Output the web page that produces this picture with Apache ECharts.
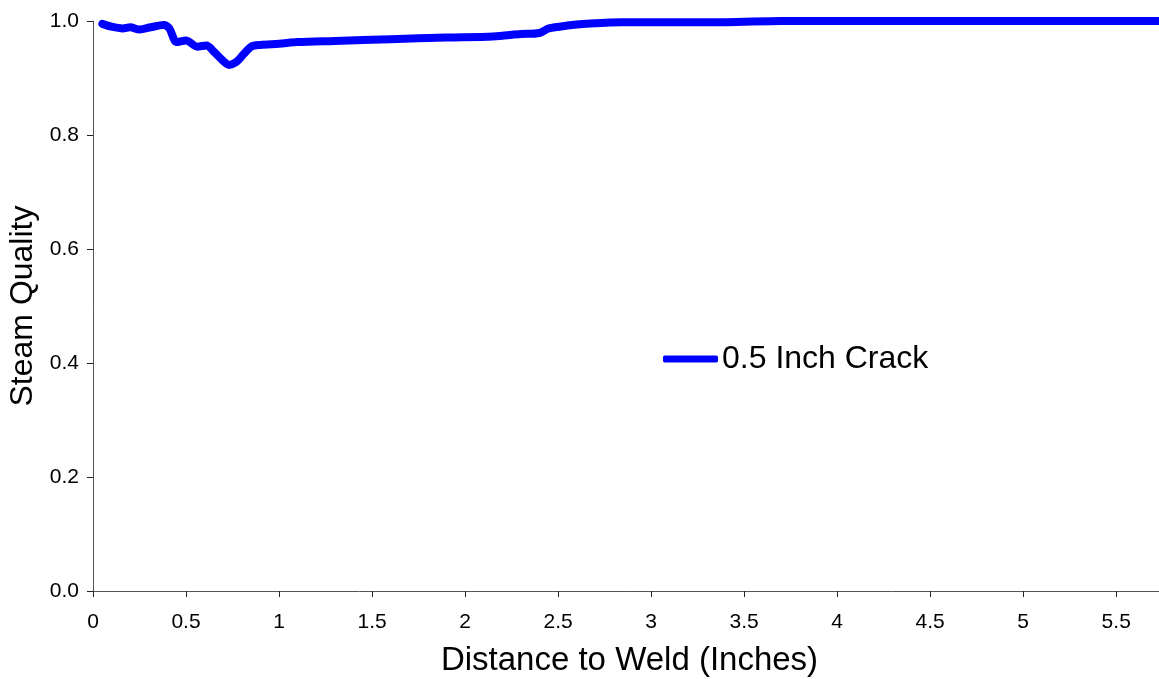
<!DOCTYPE html>
<html>
<head>
<meta charset="utf-8">
<title>Steam Quality vs Distance to Weld</title>
<script src="https://cdn.jsdelivr.net/npm/echarts@6/dist/echarts.min.js"></script>
<style>
  html, body { margin: 0; padding: 0; background: #ffffff; }
  #chart { width: 1159px; height: 679px; }
</style>
</head>
<body>
<div id="chart"></div>
<script>
// Distance from the weld (inches) and the matching steam quality
const distance = [0.05, 0.10, 0.16, 0.20, 0.25, 0.31, 0.38, 0.41, 0.45, 0.50,
                  0.56, 0.61, 0.65, 0.70, 0.73, 0.77, 0.81, 0.85, 0.90, 1.00,
                  1.10, 1.30, 1.60, 1.90, 2.15, 2.30, 2.40, 2.45, 2.55, 2.65,
                  2.85, 3.40, 3.70, 5.73];
const quality  = [0.995, 0.990, 0.987, 0.989, 0.985, 0.989, 0.993, 0.987, 0.963, 0.966,
                  0.955, 0.957, 0.946, 0.930, 0.923, 0.928, 0.942, 0.955, 0.958, 0.960,
                  0.963, 0.965, 0.968, 0.971, 0.973, 0.977, 0.979, 0.987, 0.992, 0.995,
                  0.998, 0.998, 1.000, 1.000];
const seriesName = '0.5 Inch Crack';
const xTitle = 'Distance to Weld (Inches)';
const yTitle = 'Steam Quality';

const points = distance.map((d, i) => [d, quality[i]]);
const font = '"Liberation Sans", Arial, sans-serif';

const chart = echarts.init(document.getElementById('chart'), null, { renderer: 'canvas' });
chart.setOption({
  animation: false,
  backgroundColor: '#ffffff',
  textStyle: { fontFamily: font, color: '#000' },
  grid: { left: 93, right: 0, top: 21, bottom: 88, containLabel: false, outerBoundsMode: 'none' },
  legend: {
    left: 663,
    top: 343,
    padding: 0,
    icon: 'roundRect',
    itemWidth: 55,
    itemHeight: 7,
    itemGap: 10,
    textStyle: { fontSize: 32, color: '#000', fontFamily: font, padding: [0, 0, 0, -1] },
    data: [{ name: seriesName, itemStyle: { color: '#0000ff' } }]
  },
  xAxis: {
    type: 'value',
    min: 0,
    max: 5.73,
    interval: 0.5,
    name: xTitle,
    nameLocation: 'middle',
    nameGap: 53,
    nameTextStyle: { fontSize: 33, color: '#000', fontFamily: font, padding: [0, 0, 0, 7] },
    axisLine: { show: true, onZero: false, lineStyle: { color: '#555', width: 1 } },
    axisTick: { show: true, inside: false, length: 6, lineStyle: { color: '#222' } },
    axisLabel: {
      fontSize: 21, color: '#000', margin: 21, showMaxLabel: false,
      formatter: v => (Math.abs(v * 2 - Math.round(v * 2)) < 1e-9 ? String(v) : '')
    },
    splitLine: { show: false }
  },
  yAxis: {
    type: 'value',
    min: 0,
    max: 1,
    interval: 0.2,
    name: yTitle,
    nameLocation: 'middle',
    nameGap: 54,
    nameRotate: 90,
    nameTextStyle: { fontSize: 32, color: '#000', fontFamily: font },
    axisLine: { show: true, lineStyle: { color: '#555', width: 1 } },
    axisTick: { show: true, inside: false, length: 6, lineStyle: { color: '#222' } },
    axisLabel: { fontSize: 21, color: '#000', margin: 14, formatter: v => v.toFixed(1) },
    splitLine: { show: false }
  },
  series: [{
    name: seriesName,
    type: 'line',
    data: points,
    smooth: 0.3,
    showSymbol: false,
    symbol: 'none',
    clip: false,
    lineStyle: { color: '#0000ff', width: 8, cap: 'round', join: 'round' },
    itemStyle: { color: '#0000ff' }
  }]
});
</script>
</body>
</html>
